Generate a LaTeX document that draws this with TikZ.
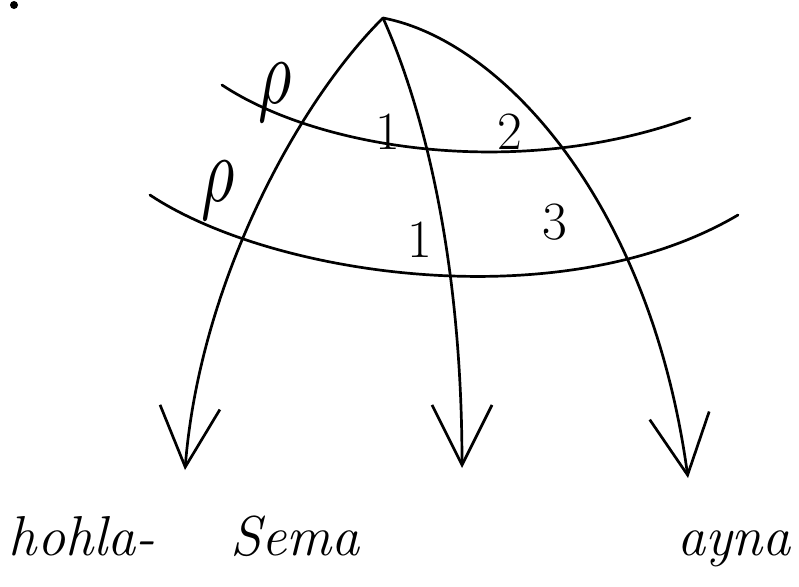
\documentclass[tikz,border=0pt]{standalone}
\usepackage{graphicx}
\usetikzlibrary{arrows.meta}
\tikzset{
  pen/.style={line width=2.3pt,line cap=round},
  arr/.style={pen,-{Straight Barb[length=1.8cm,width=1.8cm,line width=2.3pt]}},
  word/.style={font=\fontsize{48}{48}\selectfont\itshape,anchor=base,inner sep=0pt},
  num/.style={font=\fontsize{46}{46}\selectfont},
  rh/.style={inner sep=0pt}
}
\begin{document}
\begin{tikzpicture}[x={(0.03cm,0cm)},y={(0cm,-0.03cm)}]
        \useasboundingbox (0,0) rectangle (799,587);
        \fill (14,5) circle (4);
        \coordinate (apex) at (383,18);
        \coordinate (tipa) at (185,470);
        \coordinate (tipb) at (462,468);
        \coordinate (tipc) at (688,478);
        \draw[pen] (222,85) .. controls (320,150) and (520,180) .. (690,118);
        \draw[pen] (150,195) .. controls (270,275) and (560,320) .. (738,215);
        \draw[arr] (apex) .. controls (300,100) and (200,280) .. (tipa);
        \draw[arr] (apex) .. controls (420,100) and (462,250) .. (tipb);
        \draw[arr] (apex) .. controls (500,40) and (650,200) .. (tipc);
        \node[rh] (rhoa) at (275,92) {\scalebox{5.5}[8]{$\rho$}};
        \node[rh] (rhob) at (218,190) {\scalebox{5.5}[8]{$\rho$}};
        \node[num] (na) at (388,132) {1};
        \node[num] (nb) at (510,132) {2};
        \node[num] (nc) at (420,240) {1};
        \node[num] (nd) at (555,222) {3};
        \node[word] (hohla) at (82,555) {hohla-};
        \node[word] (sema) at (295,555) {Sema};
        \node[word] (ayna) at (734,555) {ayna};
\end{tikzpicture}
\end{document}
